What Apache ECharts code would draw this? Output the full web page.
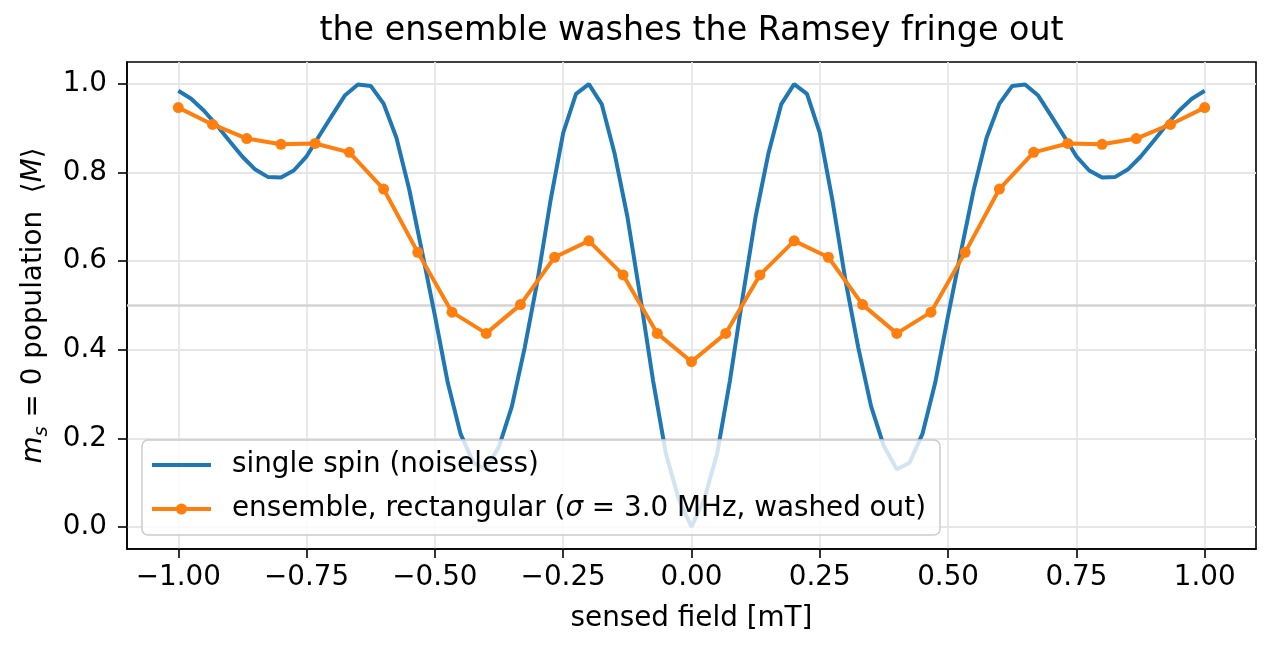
<!DOCTYPE html>
<html><head><meta charset="utf-8">
<script src="https://cdn.jsdelivr.net/npm/echarts@6/dist/echarts.min.js"></script>
<style>html,body{margin:0;padding:0;background:#fff}#c{width:1276px;height:657px}</style>
</head><body><div id="c"></div>
<script>
const fieldFine = [-1,-0.975,-0.95,-0.925,-0.9,-0.875,-0.85,-0.825,-0.8,-0.775,
  -0.75,-0.725,-0.7,-0.675,-0.65,-0.625,-0.6,-0.575,-0.55,-0.525,
  -0.5,-0.475,-0.45,-0.425,-0.4,-0.375,-0.35,-0.325,-0.3,-0.275,
  -0.25,-0.225,-0.2,-0.175,-0.15,-0.125,-0.1,-0.075,-0.05,-0.025,
  0,
  0.025,0.05,0.075,0.1,0.125,0.15,0.175,0.2,0.225,0.25,
  0.275,0.3,0.325,0.35,0.375,0.4,0.425,0.45,0.475,0.5,
  0.525,0.55,0.575,0.6,0.625,0.65,0.675,0.7,0.725,0.75,
  0.775,0.8,0.825,0.85,0.875,0.9,0.925,0.95,0.975,1];
const singleSpin = [0.985,0.967,0.940,0.907,0.871,0.836,0.807,0.790,0.789,0.805,
  0.837,0.884,0.930,0.975,0.999,0.996,0.956,0.879,0.762,0.621,
  0.477,0.326,0.210,0.145,0.130,0.182,0.272,0.405,0.557,0.735,
  0.890,0.978,1.000,0.955,0.844,0.701,0.521,0.331,0.166,0.063,
  0.000,
  0.063,0.166,0.331,0.521,0.701,0.844,0.955,1.000,0.978,0.890,
  0.735,0.557,0.405,0.272,0.182,0.130,0.145,0.210,0.326,0.477,
  0.621,0.762,0.879,0.956,0.996,0.999,0.975,0.930,0.884,0.837,
  0.805,0.789,0.790,0.807,0.836,0.871,0.907,0.940,0.967,0.985];
const fieldCoarse = [-1,-0.9333,-0.8667,-0.8,-0.7333,-0.6667,-0.6,-0.5333,-0.4667,-0.4,
  -0.3333,-0.2667,-0.2,-0.1333,-0.0667,0,0.0667,0.1333,0.2,0.2667,
  0.3333,0.4,0.4667,0.5333,0.6,0.6667,0.7333,0.8,0.8667,0.9333,1];
const ensemble = [0.947,0.909,0.877,0.864,0.866,0.846,0.763,0.620,0.485,0.437,
  0.502,0.609,0.646,0.569,0.437,0.373,0.437,0.569,0.646,0.609,
  0.502,0.437,0.485,0.620,0.763,0.846,0.866,0.864,0.877,0.909,0.947];
const xTicks = [-1,-0.75,-0.5,-0.25,0,0.25,0.5,0.75,1];
const yTicks = [0,0.2,0.4,0.6,0.8,1.0];
const refLine = 0.5;
const nameSingle = 'single spin (noiseless)';
const nameEns = 'ensemble, rectangular (σ = 3.0 MHz, washed out)';

const FONT = 'DejaVu Sans';
const FS = 27.8;
const chart = echarts.init(document.getElementById('c'), null, {renderer:'canvas'});
const fmtX = v => (v < -1e-9 ? '\u2212' : '') + Math.abs(v).toFixed(2);
const fmtY = v => (v < -1e-9 ? '\u2212' : '') + Math.abs(v).toFixed(1);
chart.setOption({
  animation: false,
  backgroundColor: '#fff',
  title: {
    text: 'the ensemble washes the Ramsey fringe out',
    left: 691.5, top: 15, textAlign: 'center', padding: 0,
    textStyle: {fontFamily: FONT, fontSize: 33.3, fontWeight: 'normal', color: '#000'}
  },
  grid: {left: 127, right: 20, top: 62, bottom: 108, show: true, borderColor: '#000', borderWidth: 1.6, backgroundColor: 'transparent'},
  xAxis: {
    type: 'value', min: -1.1, max: 1.1,
    axisLine: {show: true, onZero: false, lineStyle: {color: '#000', width: 1.6}},
    axisTick: {show: true, length: 9, inside: false, customValues: xTicks, lineStyle: {color: '#000', width: 1.6}},
    axisLabel: {customValues: xTicks, formatter: fmtX, fontFamily: FONT, fontSize: FS, color: '#000', margin: 15},
    splitLine: {show: true, lineStyle: {color: '#e6e6e6', width: 1.8}},
    name: 'sensed field [mT]', nameLocation: 'middle', nameGap: 56,
    nameTextStyle: {fontFamily: FONT, fontSize: FS, color: '#000'}
  },
  yAxis: {
    type: 'value', min: -0.05, max: 1.05,
    axisLine: {show: true, onZero: false, lineStyle: {color: '#000', width: 1.6}},
    axisTick: {show: true, length: 9, inside: false, customValues: yTicks, lineStyle: {color: '#000', width: 1.6}},
    axisLabel: {customValues: yTicks, formatter: fmtY, fontFamily: FONT, fontSize: FS, color: '#000', margin: 20},
    splitLine: {show: true, lineStyle: {color: '#e6e6e6', width: 1.8}},
    name: '{mi|m}{sub|s}{n| = 0 population  \u27E8}{mi|M}{n|\u27E9}',
    nameLocation: 'middle', nameRotate: 90, nameGap: 74,
    nameTextStyle: {
      fontFamily: FONT, fontSize: FS, color: '#000',
      rich: {
        mi: {fontFamily: FONT, fontSize: FS, fontStyle: 'italic', color: '#000', lineHeight: 36, verticalAlign: 'middle'},
        sub: {fontFamily: FONT, fontSize: 19.5, fontStyle: 'italic', color: '#000', lineHeight: 22, verticalAlign: 'bottom'},
        n: {fontFamily: FONT, fontSize: FS, color: '#000', lineHeight: 36, verticalAlign: 'middle'}
      }
    }
  },
  legend: {
    orient: 'vertical', left: 142, top: 440,
    padding: [10, 14, 11, 8], itemWidth: 59, itemHeight: 14, itemGap: 14,
    backgroundColor: 'rgba(255,255,255,0.8)', borderColor: '#cccccc', borderWidth: 1.5, borderRadius: 6,
    lineStyle: {width: 4},
    data: [
      {name: nameSingle, itemStyle: {opacity: 0}, lineStyle: {width: 4, color: '#1f77b4'}},
      {name: nameEns, lineStyle: {width: 4, color: '#ff7f0e'}, itemStyle: {color: '#ff7f0e'}}
    ],
    formatter: n => n === nameEns ? 'ensemble, rectangular ({i|σ} = 3.0 MHz, washed out)' : n,
    textStyle: {
      fontFamily: FONT, fontSize: FS, color: '#000', lineHeight: 30, padding: [0, 0, 0, 16],
      rich: {i: {fontFamily: FONT, fontSize: FS, fontStyle: 'italic', color: '#000'}}
    }
  },
  series: [
    {
      name: nameSingle, type: 'line',
      data: fieldFine.map((x, i) => [x, singleSpin[i]]),
      symbol: 'none', showSymbol: false,
      lineStyle: {color: '#1f77b4', width: 4},
      itemStyle: {color: '#1f77b4'},
      markLine: {
        silent: true, symbol: 'none', z: 1,
        label: {show: false},
        lineStyle: {color: '#d4d4d4', width: 2.5, type: 'solid'},
        data: [{yAxis: refLine}]
      }
    },
    {
      name: nameEns, type: 'line',
      data: fieldCoarse.map((x, i) => [x, ensemble[i]]),
      symbol: 'circle', symbolSize: 11, showSymbol: true,
      lineStyle: {color: '#ff7f0e', width: 4},
      itemStyle: {color: '#ff7f0e'}
    }
  ]
});
</script></body></html>
